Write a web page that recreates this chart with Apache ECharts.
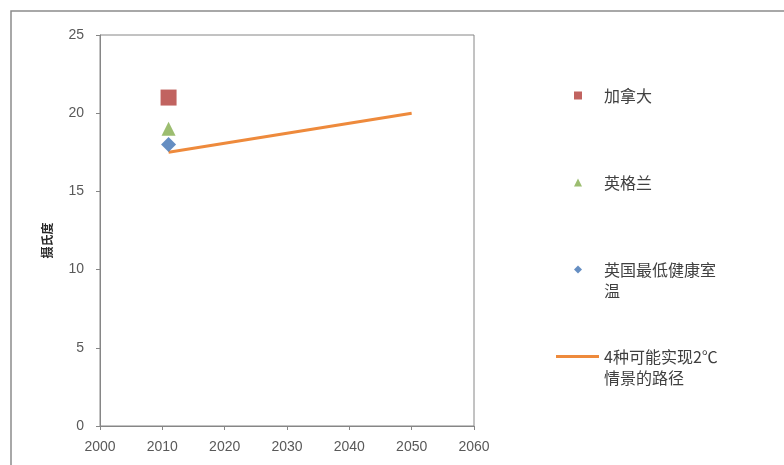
<!DOCTYPE html>
<html>
<head>
<meta charset="utf-8">
<style>
  html, body { margin: 0; padding: 0; background: #fff; }
  #chart { width: 784px; height: 465px; }
</style>
<script src="https://cdn.jsdelivr.net/npm/echarts@6/dist/echarts.min.js"></script>
</head>
<body>
<div id="chart"></div>
<script>
// Indoor temperatures (°C) around 2011 and the 2°C pathway
const pointYears = [2011];
const canadaTemps = [21];
const englandTemps = [19];
const ukMinTemps = [18];
const pathYears = [2011, 2050];
const pathTemps = [17.5, 20];

const xTicks = { min: 2000, max: 2060, step: 10 };
const yTicks = { min: 0, max: 25, step: 5 };

const seriesNames = ['加拿大', '英格兰', '英国最低健康室温', '4种可能实现2℃情景的路径'];
const legendLines = [['加拿大'], ['英格兰'], ['英国最低健康室', '温'], ['4种可能实现2℃', '情景的路径']];
const seriesColors = ['#b23c38', '#83ac4c', '#3f72b3', '#ee8a3c'];

const pairs = (xs, ys) => xs.map((x, i) => [x, ys[i]]);

const cjk = '"Noto Sans CJK SC", "Noto Sans", sans-serif';
const tickFont = '"Liberation Sans", "DejaVu Sans", sans-serif';
const frameColor = '#868686';

const chart = echarts.init(document.getElementById('chart'), null, { renderer: 'canvas' });

// Each legend row is three lines tall with the icon level with the middle line,
// so the first text line of every entry sits beside its icon.
const labelFor = name => {
  const lines = legendLines[seriesNames.indexOf(name)];
  return [' ', lines[0], lines[1] || ' '].join('\n');
};
const legendText = { fontFamily: cjk, fontSize: 16, lineHeight: 21, color: '#404040' };

const markerLegend = {
  orient: 'vertical',
  left: 569,
  top: 59,
  itemWidth: 8,
  itemHeight: 8,
  itemGap: 24,
  selectedMode: false,
  formatter: labelFor,
  textStyle: Object.assign({ padding: [0, 0, 0, 17] }, legendText),
  data: [
    { name: seriesNames[0], icon: 'rect' },
    { name: seriesNames[1], icon: 'triangle' },
    { name: seriesNames[2], icon: 'diamond' }
  ]
};

const lineLegend = {
  orient: 'vertical',
  left: 551,
  top: 320,
  itemWidth: 43,
  itemHeight: 3,
  selectedMode: false,
  formatter: labelFor,
  textStyle: legendText,
  data: [{ name: seriesNames[3], icon: 'rect' }]
};

chart.setOption({
  animation: false,
  backgroundColor: '#ffffff',
  graphic: [{
    type: 'rect',
    shape: { x: 11, y: 11, width: 790, height: 480 },
    style: { fill: 'none', stroke: '#8c8c8c', lineWidth: 1.5 },
    silent: true
  }],
  grid: {
    left: 100, right: 310, top: 35, bottom: 39,
    show: true, borderColor: frameColor, borderWidth: 1
  },
  legend: [markerLegend, lineLegend],
  xAxis: {
    type: 'value',
    min: xTicks.min, max: xTicks.max, interval: xTicks.step,
    splitLine: { show: false },
    axisLine: { show: true, lineStyle: { color: frameColor, width: 1 } },
    axisTick: { show: true, length: 4, lineStyle: { color: frameColor } },
    axisLabel: {
      margin: 14, color: '#595959', fontSize: 14, fontFamily: tickFont,
      formatter: v => String(v)
    }
  },
  yAxis: {
    type: 'value',
    min: yTicks.min, max: yTicks.max, interval: yTicks.step,
    name: '摄氏度',
    nameLocation: 'middle',
    nameGap: 47,
    nameRotate: 90,
    nameTextStyle: {
      fontFamily: cjk, fontSize: 12, fontWeight: 'bold', color: '#262626',
      padding: [0, 20, 0, 0]
    },
    splitLine: { show: false },
    axisLine: { show: true, lineStyle: { color: frameColor, width: 1 } },
    axisTick: { show: true, length: 4, lineStyle: { color: frameColor } },
    axisLabel: { margin: 16, color: '#595959', fontSize: 14, fontFamily: tickFont }
  },
  series: [
    {
      name: seriesNames[0], type: 'scatter',
      symbol: 'rect', symbolSize: 16,
      itemStyle: { color: seriesColors[0] },
      data: pairs(pointYears, canadaTemps), z: 3
    },
    {
      name: seriesNames[1], type: 'scatter',
      symbol: 'triangle', symbolSize: 14,
      itemStyle: { color: seriesColors[1] },
      data: pairs(pointYears, englandTemps), z: 3
    },
    {
      name: seriesNames[2], type: 'scatter',
      symbol: 'diamond', symbolSize: 15,
      itemStyle: { color: seriesColors[2] },
      data: pairs(pointYears, ukMinTemps), z: 4
    },
    {
      name: seriesNames[3], type: 'line',
      symbol: 'none', showSymbol: false,
      lineStyle: { color: seriesColors[3], width: 3 },
      itemStyle: { color: seriesColors[3] },
      data: pairs(pathYears, pathTemps), z: 2
    }
  ]
});
</script>
</body>
</html>
